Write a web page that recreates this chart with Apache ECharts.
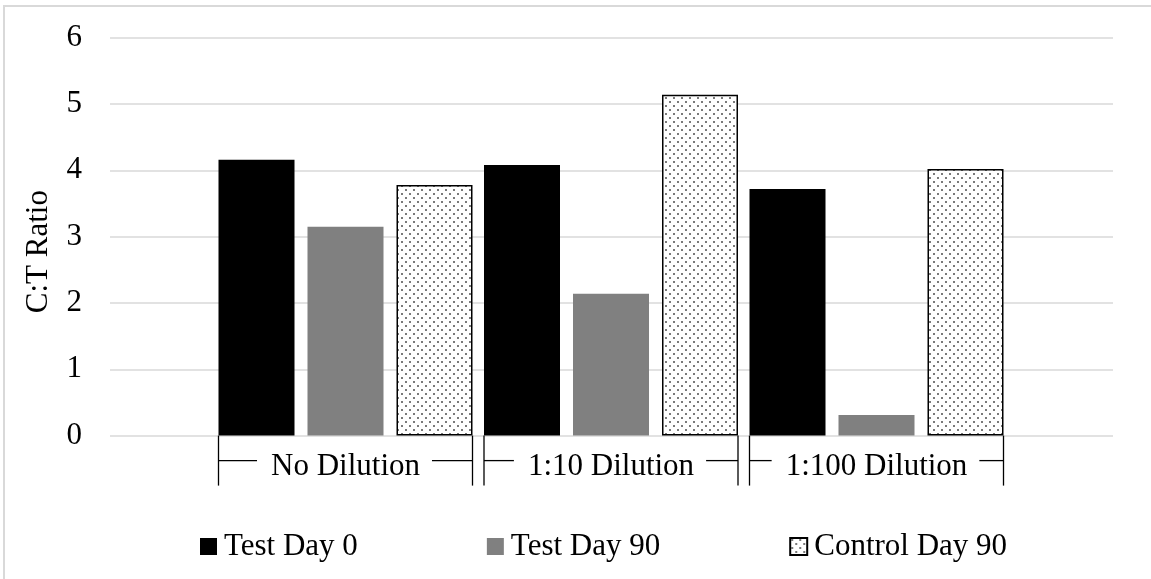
<!DOCTYPE html>
<html>
<head>
<meta charset="utf-8">
<script src="https://cdn.jsdelivr.net/npm/echarts@6/dist/echarts.min.js"></script>
<style>
html,body{margin:0;padding:0;background:#fff;}
#chart{width:1151px;height:579px;}
</style>
</head>
<body>
<div id="chart"></div>
<script>
var categories = ['No Dilution', '1:10 Dilution', '1:100 Dilution'];
var testDay0 = [4.16, 4.08, 3.72];
var testDay90 = [3.15, 2.14, 0.31];
var controlDay90 = [3.78, 5.14, 4.02];
var yTicks = [0, 1, 2, 3, 4, 5, 6];

var FONT = "'Liberation Serif', 'Times New Roman', serif";
var FS = 31;
var BAR_W = 76;
var BAR_GAP_PX = 13;

function makeDots() {
  var c = document.createElement('canvas');
  c.width = 8; c.height = 8;
  var ctx = c.getContext('2d');
  ctx.fillStyle = '#ffffff';
  ctx.fillRect(0, 0, 8, 8);
  ctx.fillStyle = '#7a7a7a';
  ctx.fillRect(1, 1, 2, 2);
  ctx.fillRect(5, 5, 2, 2);
  return c;
}
var dotPattern = { image: makeDots(), repeat: 'repeat' };

var measureCtx = document.createElement('canvas').getContext('2d');
measureCtx.font = FS + 'px ' + FONT;

var chart = echarts.init(document.getElementById('chart'), null, { renderer: 'canvas' });

var gridTop = 37.7;
var gridBottom = 579 - 435.6;

var option = {
  backgroundColor: '#ffffff',
  animation: false,
  textStyle: { fontFamily: FONT },
  graphic: [{
    type: 'rect',
    shape: { x: 4, y: 6, width: 1300, height: 800 },
    style: { fill: 'none', stroke: '#d9d9d9', lineWidth: 2 },
    silent: true, z: -10
  }],
  grid: [
    { left: 212.75, width: 796.5, top: gridTop, bottom: gridBottom },
    { left: 110, right: 38, top: gridTop, bottom: gridBottom }
  ],
  xAxis: [
    {
      type: 'category', gridIndex: 0, data: categories,
      axisLine: { show: false }, axisTick: { show: false },
      axisLabel: { color: '#000', fontFamily: FONT, fontSize: FS, margin: 16, interval: 0 }
    },
    { type: 'value', gridIndex: 1, show: false, min: 0, max: 1 }
  ],
  yAxis: [
    {
      type: 'value', gridIndex: 0, min: 0, max: 6, interval: 1, show: false,
      splitLine: { show: false }
    },
    {
      type: 'value', gridIndex: 1, min: yTicks[0], max: yTicks[yTicks.length - 1], interval: 1,
      axisLine: { show: false }, axisTick: { show: false },
      axisLabel: { color: '#000', fontFamily: FONT, fontSize: FS, margin: 28 },
      splitLine: { show: true, lineStyle: { color: '#d9d9d9', width: 1.5 } },
      name: 'C:T Ratio', nameLocation: 'middle', nameGap: 56,
      nameTextStyle: { color: '#000', fontFamily: FONT, fontSize: FS, padding: [0, 30, 0, 0] }
    }
  ],
  legend: {
    data: ['Test Day 0', 'Test Day 90', 'Control Day 90'],
    left: 195, top: 526,
    itemWidth: 17, itemHeight: 17, itemGap: 129,
    icon: 'rect',
    textStyle: { color: '#000', fontFamily: FONT, fontSize: FS, padding: [0, 0, 0, 2] }
  },
  series: [
    {
      name: 'Test Day 0', type: 'bar', xAxisIndex: 0, yAxisIndex: 0,
      data: testDay0, barWidth: BAR_W, barGap: (BAR_GAP_PX / BAR_W * 100) + '%',
      itemStyle: { color: '#000000' }
    },
    {
      name: 'Test Day 90', type: 'bar', xAxisIndex: 0, yAxisIndex: 0,
      data: testDay90, barWidth: BAR_W, barGap: (BAR_GAP_PX / BAR_W * 100) + '%',
      itemStyle: { color: '#808080' }
    },
    {
      name: 'Control Day 90', type: 'bar', xAxisIndex: 0, yAxisIndex: 0,
      data: controlDay90, barWidth: BAR_W, barGap: (BAR_GAP_PX / BAR_W * 100) + '%',
      itemStyle: { color: dotPattern, borderColor: '#000', borderWidth: 1.5 }
    },
    {
      type: 'custom', xAxisIndex: 0, yAxisIndex: 0, silent: true,
      data: categories.map(function (c, i) { return [i]; }),
      encode: { x: 0 },
      clip: false,
      renderItem: function (params, api) {
        var idx = api.value(0);
        var p = api.coord([idx, 0]);
        var span = 3 * BAR_W + 2 * BAR_GAP_PX;
        var L = p[0] - span / 2, R = p[0] + span / 2;
        var y0 = p[1], y1 = p[1] + 50, ym = p[1] + 25;
        var tw = measureCtx.measureText(categories[idx]).width;
        var tl = p[0] - tw / 2 - 14, tr = p[0] + tw / 2 + 12;
        var st = { stroke: '#000', lineWidth: 1.3 };
        return {
          type: 'group',
          children: [
            { type: 'line', shape: { x1: L, y1: y0, x2: L, y2: y1 }, style: st },
            { type: 'line', shape: { x1: R, y1: y0, x2: R, y2: y1 }, style: st },
            { type: 'line', shape: { x1: L, y1: ym, x2: tl, y2: ym }, style: st },
            { type: 'line', shape: { x1: tr, y1: ym, x2: R, y2: ym }, style: st }
          ]
        };
      }
    }
  ]
};
chart.setOption(option);
</script>
</body>
</html>
